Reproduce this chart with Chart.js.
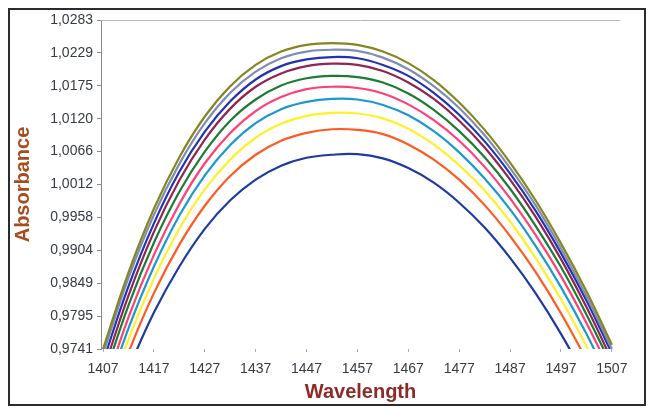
<!DOCTYPE html>
<html>
<head>
<meta charset="utf-8">
<script src="https://cdn.jsdelivr.net/npm/chart.js"></script>
<style>
  html, body { margin: 0; padding: 0; background: #fff; }
  #wrap { width: 648px; height: 409px; }
</style>
</head>
<body>
<div id="wrap"><canvas id="chart" width="648" height="409"></canvas></div>
<script>
const wavelengths = [1407, 1412, 1417, 1422, 1427, 1432, 1437, 1442, 1447, 1452, 1457,
                     1462, 1467, 1472, 1477, 1482, 1487, 1492, 1497, 1502, 1507];

const xTicks = [1407, 1417, 1427, 1437, 1447, 1457, 1467, 1477, 1487, 1497, 1507];
const yTickLabels = ['0,9741', '0,9795', '0,9849', '0,9904', '0,9958', '1,0012',
                     '1,0066', '1,0120', '1,0175', '1,0229', '1,0283'];
const yMin = 0.9741, yMax = 1.0283;

// top curve first
const olive  = [0.9741, 0.9867, 0.9972, 1.0057, 1.0124, 1.0174, 1.0209, 1.0231, 1.0242, 1.0245, 1.0242,
                1.0231, 1.0212, 1.0184, 1.0147, 1.0102, 1.0048, 0.9986, 0.9915, 0.9836, 0.9748];
const slate  = [0.9733, 0.9858, 0.9962, 1.0046, 1.0113, 1.0163, 1.0198, 1.0220, 1.0231, 1.0234, 1.0232,
                1.0221, 1.0202, 1.0174, 1.0138, 1.0093, 1.0039, 0.9978, 0.9907, 0.9828, 0.9741];
const blue   = [0.9720, 0.9844, 0.9948, 1.0033, 1.0099, 1.0149, 1.0185, 1.0207, 1.0218, 1.0222, 1.0220,
                1.0209, 1.0191, 1.0163, 1.0127, 1.0083, 1.0030, 0.9969, 0.9899, 0.9821, 0.9734];
const maroon = [0.9704, 0.9829, 0.9934, 1.0019, 1.0086, 1.0137, 1.0173, 1.0195, 1.0207, 1.0211, 1.0209,
                1.0199, 1.0180, 1.0153, 1.0117, 1.0073, 1.0020, 0.9959, 0.9889, 0.9810, 0.9723];
const green  = [0.9689, 0.9813, 0.9916, 1.0000, 1.0066, 1.0117, 1.0152, 1.0175, 1.0187, 1.0191, 1.0189,
                1.0180, 1.0162, 1.0135, 1.0100, 1.0057, 1.0005, 0.9944, 0.9876, 0.9798, 0.9713];
const pink   = [0.9669, 0.9793, 0.9896, 0.9980, 1.0047, 1.0097, 1.0133, 1.0156, 1.0169, 1.0173, 1.0171,
                1.0162, 1.0144, 1.0118, 1.0084, 1.0041, 0.9989, 0.9929, 0.9861, 0.9784, 0.9699];
const teal   = [0.9654, 0.9775, 0.9877, 0.9961, 1.0027, 1.0077, 1.0113, 1.0136, 1.0148, 1.0153, 1.0152,
                1.0143, 1.0126, 1.0100, 1.0065, 1.0022, 0.9971, 0.9911, 0.9843, 0.9766, 0.9680];
const yellow = [0.9637, 0.9757, 0.9857, 0.9939, 1.0004, 1.0053, 1.0089, 1.0112, 1.0125, 1.0130, 1.0129,
                1.0121, 1.0104, 1.0078, 1.0044, 1.0002, 0.9951, 0.9891, 0.9823, 0.9746, 0.9661];
const orange = [0.9618, 0.9735, 0.9833, 0.9913, 0.9977, 1.0026, 1.0061, 1.0084, 1.0097, 1.0103, 1.0102,
                1.0095, 1.0078, 1.0053, 1.0020, 0.9978, 0.9927, 0.9868, 0.9800, 0.9723, 0.9638];
const navy   = [0.9597, 0.9707, 0.9801, 0.9877, 0.9939, 0.9986, 1.0020, 1.0043, 1.0056, 1.0061, 1.0062,
                1.0055, 1.0039, 1.0015, 0.9982, 0.9941, 0.9891, 0.9833, 0.9766, 0.9690, 0.9606];

const series = [olive, slate, blue, maroon, green, pink, teal, yellow, orange, navy];
const colors = ['#85861f', '#7f8cb4', '#2233b0', '#8e2552', '#1d7b34',
                '#ff3f76', '#1c98cf', '#fff02a', '#ff5a22', '#1d3c9e'];

const frame = {
  id: 'frame',
  afterDraw(chart) {
    const { ctx, chartArea: a } = chart;
    ctx.save();
    ctx.strokeStyle = '#b5b5b5';
    ctx.lineWidth = 1;
    ctx.beginPath();
    ctx.moveTo(a.left, a.top + 0.5);
    ctx.lineTo(a.right, a.top + 0.5);
    ctx.stroke();
    ctx.strokeStyle = '#2b2b2b';
    ctx.lineWidth = 2;
    ctx.strokeRect(9, 9, 636, 396);
    ctx.restore();
  }
};

new Chart(document.getElementById('chart'), {
  type: 'line',
  data: {
    datasets: series.map((vals, i) => ({
      data: vals.map((v, j) => ({ x: wavelengths[j], y: v })),
      borderColor: colors[i],
      borderWidth: 2.2,
      pointRadius: 0,
      tension: 0.4,
      fill: false
    }))
  },
  options: {
    responsive: false,
    animation: false,
    layout: { padding: { left: 0, top: 20, right: 28, bottom: 0 } },
    plugins: { legend: { display: false }, tooltip: { enabled: false } },
    scales: {
      x: {
        type: 'linear',
        min: 1406.6,
        max: 1508.6,
        afterFit: s => { s.height = 60; },
        afterBuildTicks: s => { s.ticks = xTicks.map(v => ({ value: v })); },
        border: { display: false },
        grid: { drawOnChartArea: false, drawTicks: true, tickLength: 3, color: '#aaaaaa' },
        ticks: {
          padding: 9,
          maxRotation: 0,
          color: '#363a46',
          font: { family: 'Liberation Sans', size: 14 },
          callback: v => String(v)
        },
        title: {
          display: true,
          text: 'Wavelength',
          color: '#8e2b29',
          font: { family: 'Liberation Sans', size: 20, weight: 'bold' },
          padding: { top: 0, bottom: 5 }
        }
      },
      y: {
        min: yMin,
        max: yMax,
        afterFit: s => { s.width = 101; },
        afterBuildTicks: s => {
          s.ticks = yTickLabels.map((_, i) => ({ value: yMin + i * (yMax - yMin) / 10 }));
        },
        border: { display: true, color: '#8a8a8a', width: 1 },
        grid: { drawOnChartArea: false, drawTicks: true, tickLength: 4, color: '#8a8a8a' },
        ticks: {
          padding: 4,
          color: '#363a46',
          font: { family: 'Liberation Sans', size: 14 },
          callback: (v, i) => yTickLabels[i]
        },
        title: {
          display: true,
          text: 'Absorbance',
          color: '#a84b1f',
          font: { family: 'Liberation Sans', size: 20, weight: 'bold' },
          padding: { top: 11, bottom: 0 }
        }
      }
    }
  },
  plugins: [frame]
});
</script>
</body>
</html>
